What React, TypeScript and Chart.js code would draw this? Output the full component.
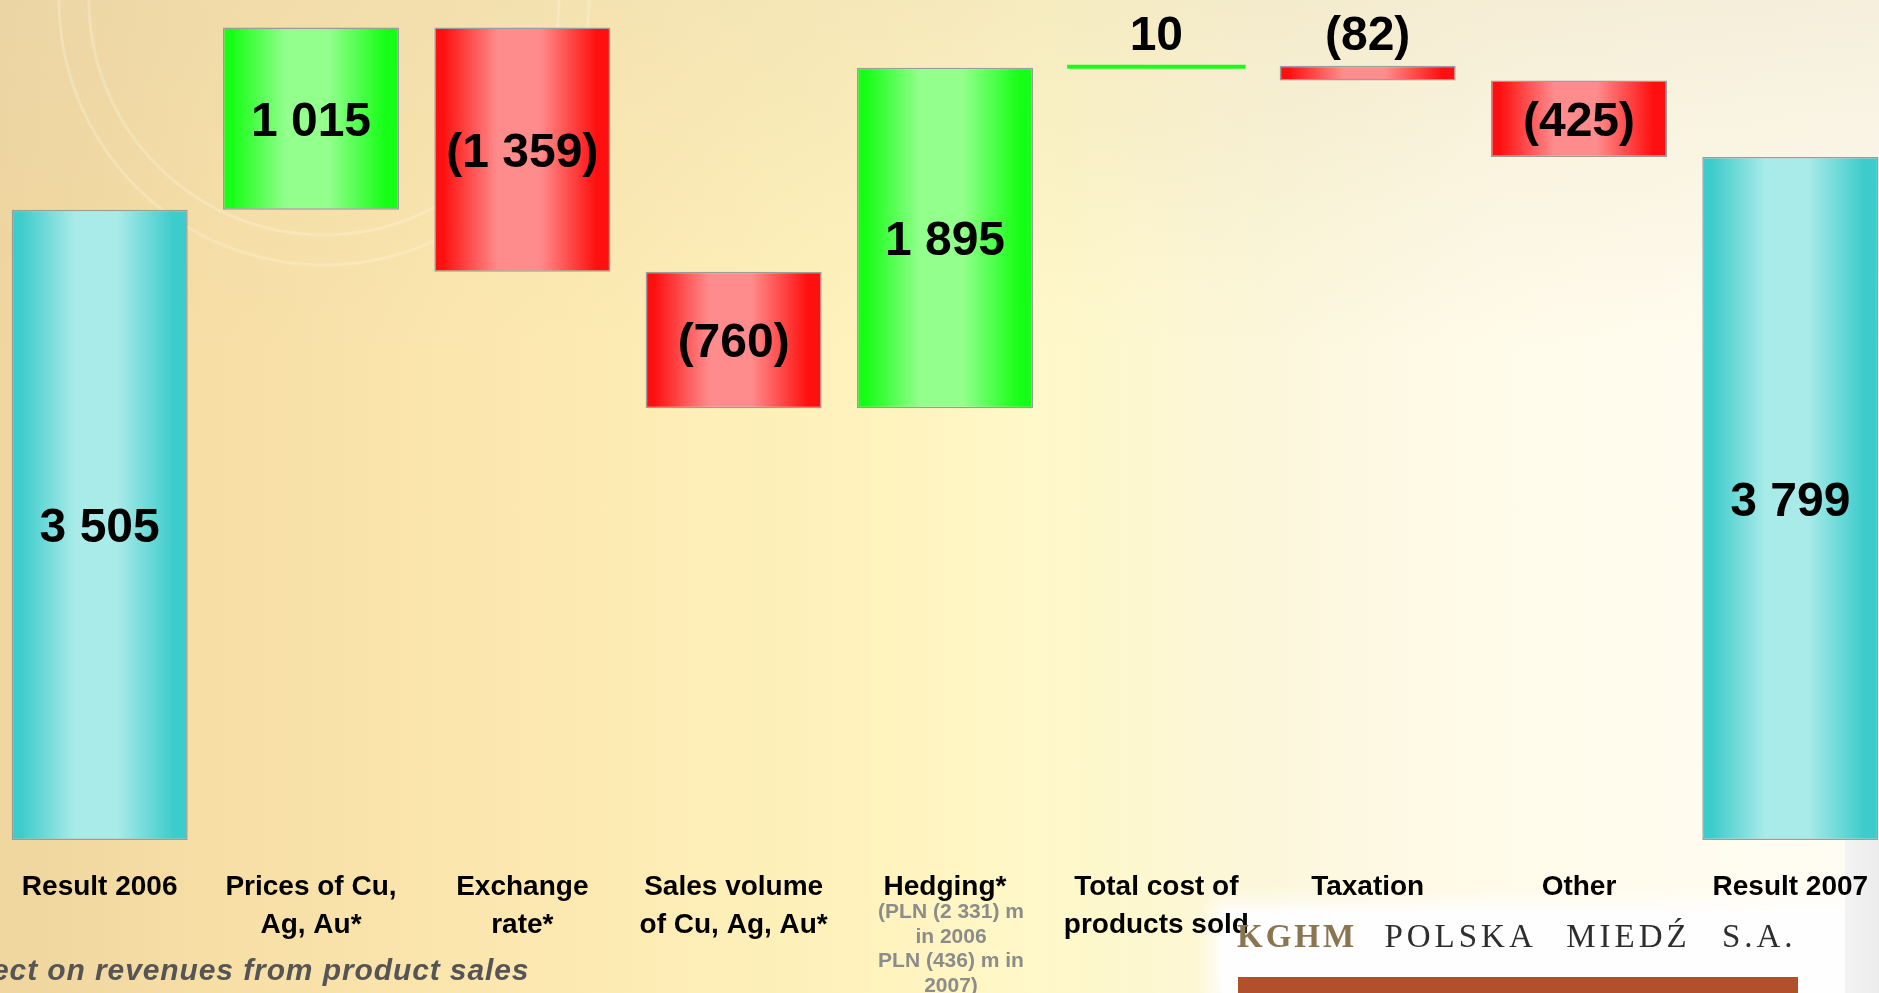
import React, { useEffect, useRef } from "react";
import { Chart, registerables } from "chart.js";

Chart.register(...registerables);

// ---- data ----
const categories: string[][] = [
  ["Result 2006"],
  ["Prices of Cu,", "Ag, Au*"],
  ["Exchange", "rate*"],
  ["Sales volume", "of Cu, Ag, Au*"],
  ["Hedging*"],
  ["Total cost of", "products sold"],
  ["Taxation"],
  ["Other"],
  ["Result 2007"],
];
const values: number[] = [3505, 1015, -1359, -760, 1895, 10, -82, -425, 3799];
const barKinds: string[] = ["total", "delta", "delta", "delta", "delta", "delta", "delta", "delta", "total"];
const valueLabels: string[] = ["3 505", "1 015", "(1 359)", "(760)", "1 895", "10", "(82)", "(425)", "3 799"];
const hedgingIndex = 4;
const hedgingNote: string[] = ["(PLN (2 331) m", "in 2006", "PLN (436) m in", "2007)"];
const yMin = 0;
const yMax = 4600;

function buildRanges(): [number, number][] {
  let run = 0;
  return values.map((v, i) => {
    if (barKinds[i] === "total") {
      run = v;
      return [0, v] as [number, number];
    }
    const start = run;
    run += v;
    return [start, run] as [number, number];
  });
}

const FONT = '"Liberation Sans", Arial, Helvetica, sans-serif';

const palette: Record<string, [string, string]> = {
  total: ["#3ccccb", "#a9ebe9"],
  up: ["#16ff16", "#93ff8d"],
  down: ["#ff1010", "#ff8c8c"],
};

function kindOf(i: number): string {
  if (barKinds[i] === "total") return "total";
  return values[i] >= 0 ? "up" : "down";
}

function isThin(i: number): boolean {
  return barKinds[i] !== "total" && Math.abs(values[i]) < 50;
}

function fillFor(c: any) {
  const chart = c.chart;
  const i = c.dataIndex;
  const [dark, light] = palette[kindOf(i)];
  if (isThin(i)) return dark;
  if (!chart.chartArea || !chart.scales || !chart.scales.x) return dark;
  const xs = chart.scales.x;
  const cx = xs.getPixelForValue(i);
  const half = ((xs.width / categories.length) * 0.833) / 2;
  const g = chart.ctx.createLinearGradient(cx - half, 0, cx + half, 0);
  g.addColorStop(0, dark);
  g.addColorStop(0.05, dark);
  g.addColorStop(0.36, light);
  g.addColorStop(0.6, light);
  g.addColorStop(0.92, dark);
  g.addColorStop(1, dark);
  return g;
}

const watermarkPlugin = {
  id: "watermark",
  beforeDraw(chart: any) {
    const ctx = chart.ctx;
    ctx.save();
    ctx.strokeStyle = "rgba(255,248,228,0.28)";
    ctx.lineWidth = 3;
    const cx = 330;
    const cy = 0;
    [265, 235].forEach((r) => {
      ctx.beginPath();
      ctx.arc(cx, cy, r, 0, Math.PI);
      ctx.stroke();
    });
    ctx.restore();
  },
};

const labelsPlugin = {
  id: "waterfallLabels",
  afterDatasetsDraw(chart: any) {
    const ctx = chart.ctx;
    const meta = chart.getDatasetMeta(0);
    const xs = chart.scales.x;
    ctx.save();
    // value labels
    ctx.font = `bold 48px ${FONT}`;
    ctx.textAlign = "center";
    ctx.textBaseline = "alphabetic";
    ctx.fillStyle = "#000000";
    meta.data.forEach((el: any, i: number) => {
      const top = Math.min(el.y, el.base);
      const bottom = Math.max(el.y, el.base);
      const baseline = bottom - top > 45 ? (top + bottom) / 2 + 17 : top - 16;
      ctx.fillText(valueLabels[i], el.x, baseline);
    });
    // category labels
    ctx.font = `bold 28px ${FONT}`;
    categories.forEach((lines, i) => {
      const x = xs.getPixelForValue(i);
      lines.forEach((line, k) => {
        ctx.fillText(line, x, 895 + k * 38);
      });
    });
    // hedging note
    ctx.font = `bold 21px ${FONT}`;
    ctx.fillStyle = "#8c8c8c";
    const hx = xs.getPixelForValue(hedgingIndex) + 6;
    hedgingNote.forEach((line, k) => {
      ctx.fillText(line, hx, 918 + k * 24.5);
    });
    ctx.restore();
  },
};

export default function App() {
  const canvasRef = useRef<HTMLCanvasElement | null>(null);

  useEffect(() => {
    if (!canvasRef.current) return;
    const chart = new Chart(canvasRef.current, {
      type: "bar",
      data: {
        labels: categories,
        datasets: [
          {
            data: buildRanges() as any,
            backgroundColor: fillFor as any,
            borderColor: ((c: any) => (isThin(c.dataIndex) ? "#22e622" : "#9c9c9c")) as any,
            borderWidth: ((c: any) => (isThin(c.dataIndex) ? 0 : 1.5)) as any,
            inflateAmount: ((c: any) => (isThin(c.dataIndex) ? 1.2 : 0)) as any,
            borderSkipped: false,
            barPercentage: 0.833,
            categoryPercentage: 1,
          } as any,
        ],
      },
      options: {
        animation: false,
        responsive: false,
        devicePixelRatio: 1,
        layout: { padding: { top: 13, bottom: 153, left: 0, right: 0 } },
        scales: {
          x: { display: false },
          y: { display: false, min: yMin, max: yMax },
        },
        plugins: {
          legend: { display: false },
          tooltip: { enabled: false },
        },
      },
      plugins: [watermarkPlugin, labelsPlugin],
    });
    return () => chart.destroy();
  }, []);

  return (
    <div
      style={{
        position: "fixed",
        left: 0,
        top: 0,
        width: 1879,
        height: 993,
        overflow: "hidden",
        background:
          "linear-gradient(to bottom, rgba(228,212,175,0.35) 0%, rgba(255,255,255,0) 35%), linear-gradient(to right, #efd59e 0%, #f7dfa6 12%, #fce8b0 28%, #fff2bc 45%, #fff8c8 55%, #fcf7dc 68%, #fffbea 80%, #fffdf4 100%)",
      }}
    >
      <div
        style={{
          position: "absolute",
          left: 1222,
          top: 912,
          width: 623,
          height: 81,
          background: "#fefefe",
          boxShadow: "0 0 18px 10px #fefefe",
        }}
      />
      <div
        style={{
          position: "absolute",
          left: 1845,
          top: 840,
          width: 34,
          height: 153,
          background: "linear-gradient(to right, #f3f3f3, #ececec)",
        }}
      />
      <canvas
        ref={canvasRef}
        width={1902}
        height={993}
        style={{ position: "absolute", left: -6, top: 0, width: 1902, height: 993 }}
      />
      <div
        style={{
          position: "absolute",
          left: -8,
          top: 955,
          fontFamily: FONT,
          fontWeight: "bold",
          fontStyle: "italic",
          fontSize: 30,
          lineHeight: "30px",
          letterSpacing: 0.9,
          color: "#555555",
          whiteSpace: "nowrap",
        }}
      >
        ect on revenues from product sales
      </div>
      <div
        style={{
          position: "absolute",
          left: 1237,
          top: 920,
          fontFamily: '"Liberation Serif", "DejaVu Serif", serif',
          fontSize: 33,
          lineHeight: "33px",
          whiteSpace: "nowrap",
          wordSpacing: 19,
        }}
      >
        <span style={{ color: "#8a7550", fontWeight: "bold", letterSpacing: 3 }}>KGHM</span>{" "}
        <span style={{ color: "#2e2e2e", letterSpacing: 4 }}>POLSKA MIEDŹ S.A.</span>
      </div>
      <div
        style={{
          position: "absolute",
          left: 1238,
          top: 977,
          width: 560,
          height: 16,
          background: "#b1512b",
        }}
      />
    </div>
  );
}
